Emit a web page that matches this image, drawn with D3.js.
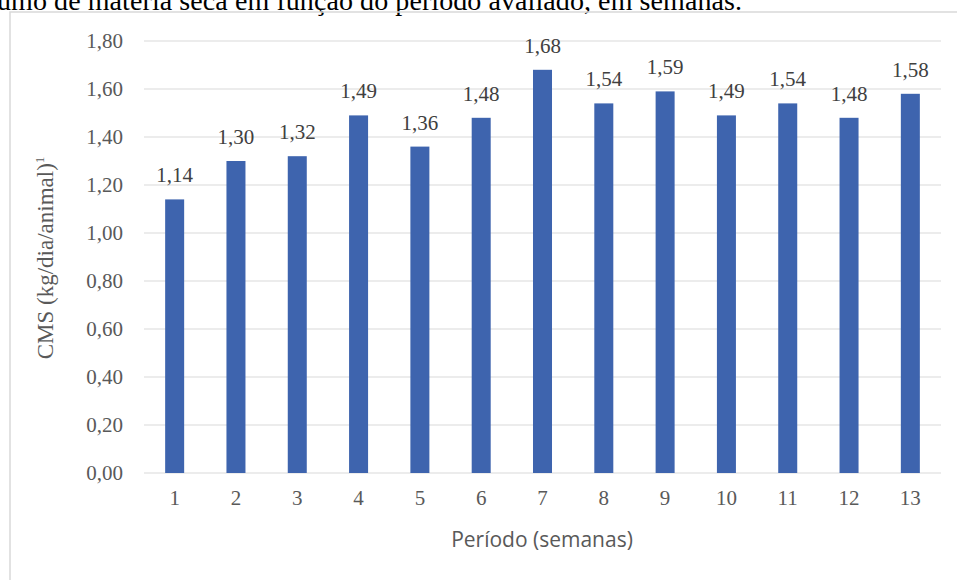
<!DOCTYPE html>
<html><head><meta charset="utf-8">
<script src="https://cdn.jsdelivr.net/npm/d3@7"></script>
<style>html,body{margin:0;padding:0;background:#fff;overflow:hidden}</style>
</head><body>
<script>
const categories = ["1","2","3","4","5","6","7","8","9","10","11","12","13"];
const values = [1.14,1.30,1.32,1.49,1.36,1.48,1.68,1.54,1.59,1.49,1.54,1.48,1.58];
const yTicks = [0,0.2,0.4,0.6,0.8,1.0,1.2,1.4,1.6,1.8];
const caption = "umo de matéria seca em função do período avaliado, em semanas.";
const xTitle = "Período (semanas)";
const yTitle = "CMS (kg/dia/animal)";

const W=957,H=580;
const svg=d3.select("body").append("svg").attr("width",W).attr("height",H);
const fmt = v => d3.format(".2f")(v).replace(".",",");

// caption (cut off at top, as in the reference)
svg.append("text").attr("x",-3).attr("y",10).attr("font-family","Liberation Serif")
  .attr("font-size",28).attr("fill","#000").attr("textLength",745).text(caption);

// chart frame
svg.append("rect").attr("x",10).attr("y",12).attr("width",W+20).attr("height",H+20)
  .attr("fill","none").attr("stroke","#d9d9d9").attr("stroke-width",1.5);

const x=d3.scaleBand().domain(categories).range([144,941]).paddingInner(0.69).paddingOuter(0.345);
const y=d3.scaleLinear().domain([0,1.8]).range([473,41]);

const grid=svg.append("g");
grid.selectAll("line").data(yTicks).join("line")
  .attr("x1",144).attr("x2",941).attr("y1",d=>y(d)).attr("y2",d=>y(d))
  .attr("stroke","#d9d9d9").attr("stroke-width",1);

const yAxis=svg.append("g").attr("transform","translate(144,0)")
  .call(d3.axisLeft(y).tickValues(yTicks).tickFormat(fmt).tickSize(0).tickPadding(21));
yAxis.select(".domain").remove();
yAxis.attr("font-family","Liberation Serif").attr("font-size",21);
yAxis.selectAll("text").attr("fill","#595959");

const xAxis=svg.append("g").attr("transform","translate(0,473)")
  .call(d3.axisBottom(x).tickSize(0).tickPadding(17));
xAxis.select(".domain").remove();
xAxis.attr("font-family","Liberation Serif").attr("font-size",21);
xAxis.selectAll("text").attr("fill","#595959");

svg.append("g").selectAll("rect").data(values).join("rect")
  .attr("x",(d,i)=>x(categories[i])).attr("width",x.bandwidth())
  .attr("y",d=>y(d)).attr("height",d=>y(0)-y(d)).attr("fill","#3E64AE");

svg.append("g").selectAll("text").data(values).join("text")
  .attr("x",(d,i)=>x(categories[i])+x.bandwidth()/2).attr("y",d=>y(d)-17)
  .attr("text-anchor","middle").attr("font-family","Liberation Serif").attr("font-size",21)
  .attr("fill","#404040").text(d=>fmt(d));

svg.append("text").attr("x",542).attr("y",547).attr("text-anchor","middle")
  .attr("font-family","Open Sans").attr("font-size",21).attr("fill","#595959").text(xTitle);

const yt=svg.append("text").attr("transform","translate(53,258) rotate(-90)").attr("text-anchor","middle")
  .attr("font-family","Liberation Serif").attr("font-size",23).attr("fill","#595959");
yt.append("tspan").text(yTitle);
yt.append("tspan").attr("font-size",13).attr("dy",-9).text("1");
</script>
</body></html>
